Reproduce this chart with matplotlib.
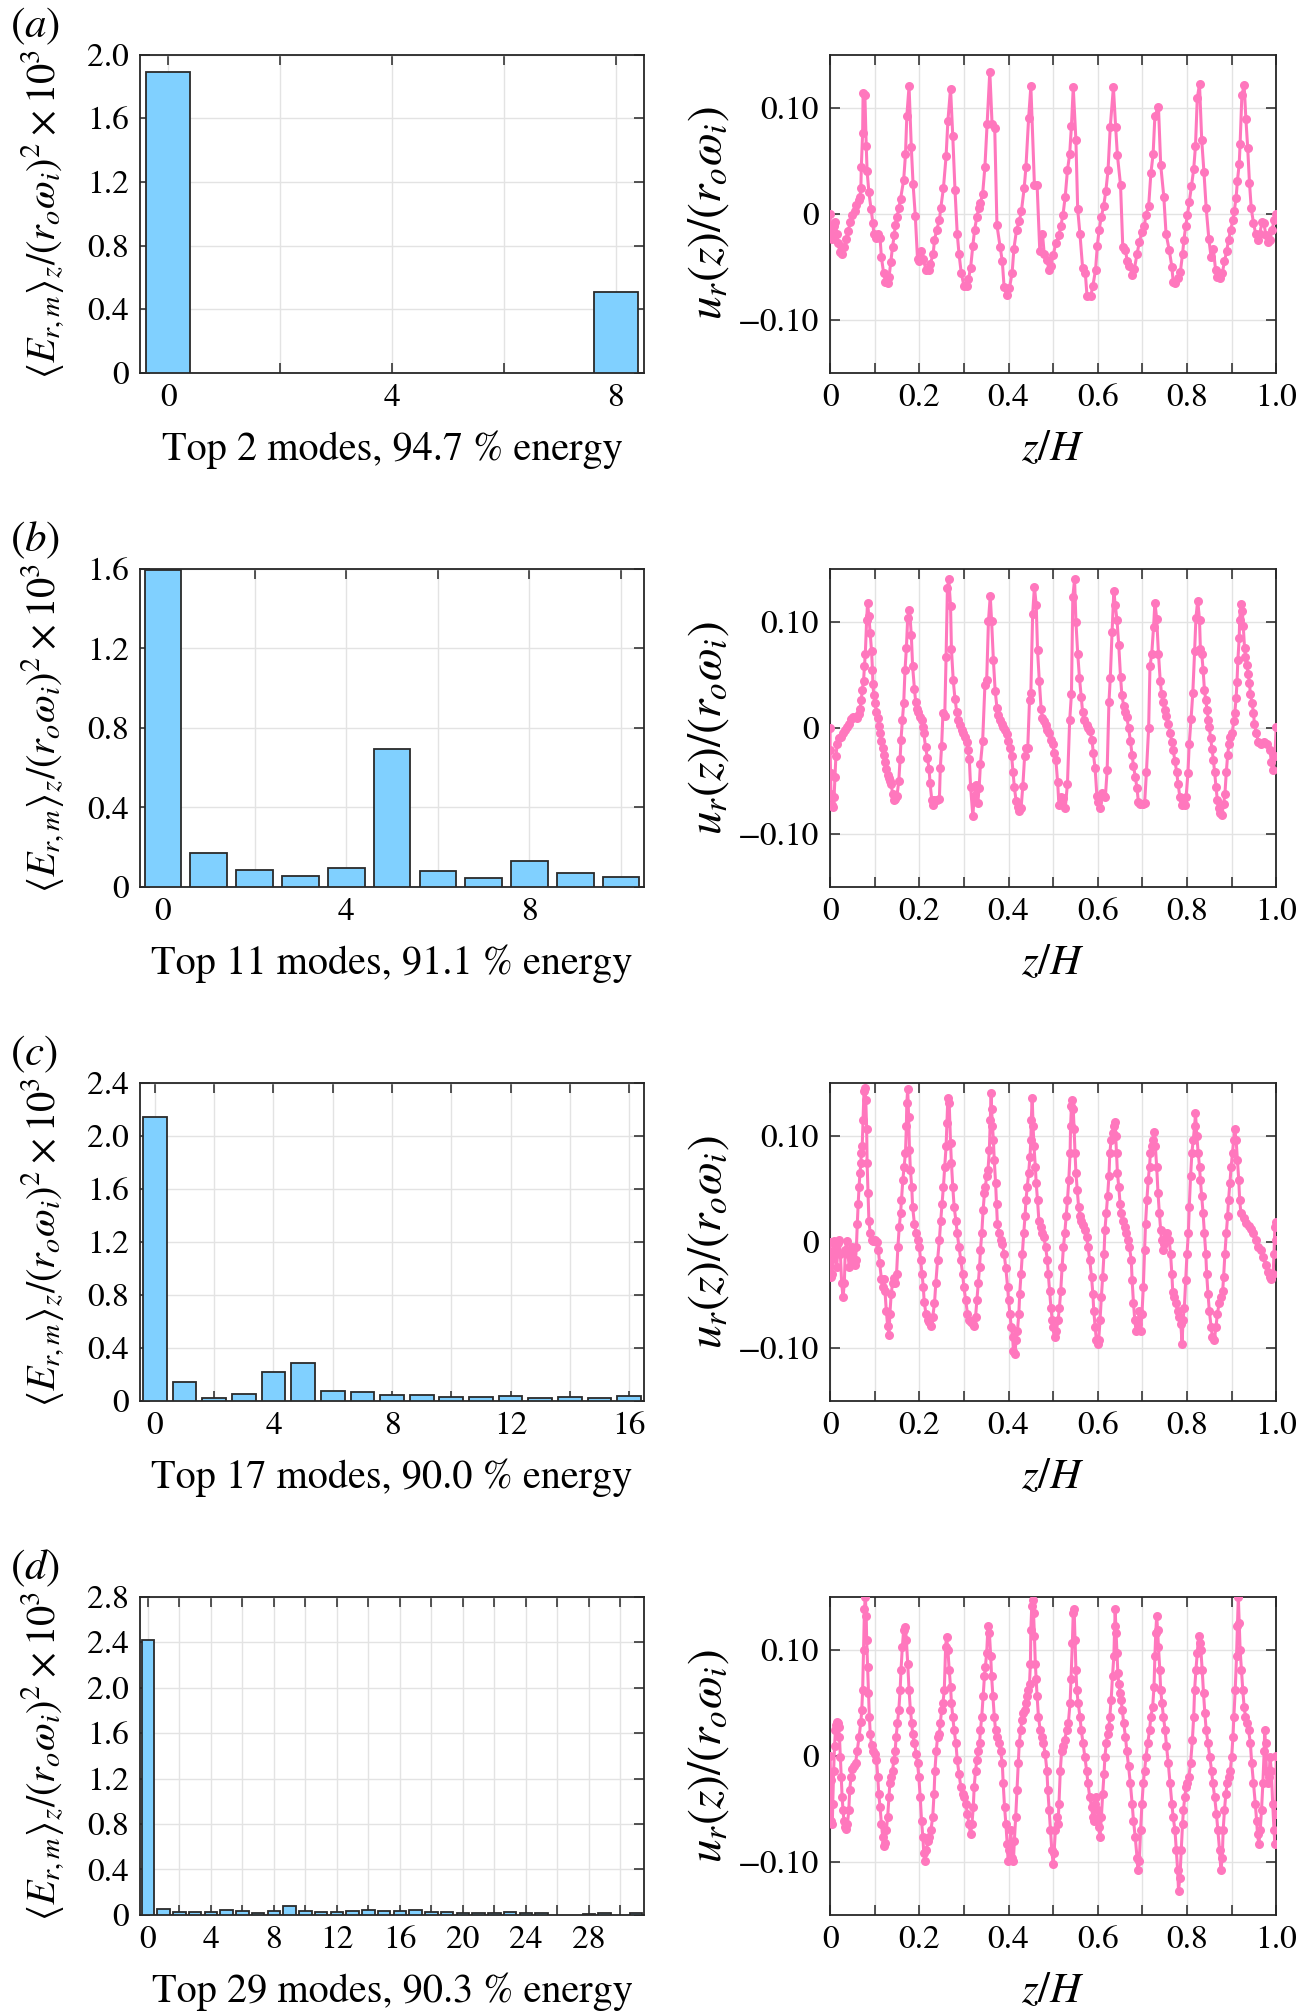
import numpy as np
import matplotlib
matplotlib.use("Agg")
import matplotlib.pyplot as plt

plt.rcParams['font.family'] = ['STIXGeneral', 'DejaVu Serif']
plt.rcParams['mathtext.fontset'] = 'stix'

# ---------------- data ----------------
# Left column: mode energies <E_{r,m}>_z/(r_o w_i)^2 x 10^3
modes_a = [0, 8]
energy_a = [1.893, 0.507]
modes_b = list(range(11))
energy_b = [1.593, 0.173, 0.087, 0.055, 0.096, 0.696, 0.081, 0.044, 0.129, 0.072, 0.049]
modes_c = list(range(17))
energy_c = [2.143, 0.146, 0.025, 0.055, 0.216, 0.289, 0.078, 0.068, 0.048, 0.045,
            0.028, 0.033, 0.040, 0.025, 0.030, 0.025, 0.035]
modes_d = list(range(26)) + [28, 29, 31]
energy_d = [2.42, 0.053, 0.029, 0.029, 0.026, 0.041, 0.035, 0.021, 0.038, 0.076,
            0.038, 0.026, 0.029, 0.032, 0.044, 0.038, 0.035, 0.044, 0.029, 0.023,
            0.015, 0.015, 0.015, 0.023, 0.018, 0.015, 0.012, 0.015, 0.015]

xlabels_left = ["Top 2 modes, 94.7 % energy", "Top 11 modes, 91.1 % energy",
                "Top 17 modes, 90.0 % energy", "Top 29 modes, 90.3 % energy"]
panel_tags = ["a", "b", "c", "d"]

# Right column: u_r(z)/(r_o w_i); pairs are (z/H x 1000, u x 1000)
profile_a = [(0,0),(1,-19),(4,-24),(8,-12),(11,-8),(15,-19),(18,-28),(22,-36),(27,-38),(32,-31),(36,-24),(41,-16),(45,-8),(50,-1),(55,3),(59,8),(64,13),(67,16),(69,24),(70,44),(73,76),(74,114),(78,112),(81,64),(83,40),(87,20),(92,4),(96,-9),(98,-19),(103,-23),(108,-19),(112,-23),(115,-41),(120,-56),(124,-64),(129,-65),(132,-60),(136,-46),(140,-31),(144,-20),(146,-11),(150,-3),(154,5),(158,14),(165,32),(169,56),(172,92),(177,120),(182,63),(186,28),(191,-2),(196,-43),(200,-45),(204,-35),(209,-43),(215,-53),(221,-53),(225,-47),(231,-38),(234,-25),(239,-15),(245,-6),(248,5),(254,24),(260,54),(264,87),(270,118),(275,73),(280,22),(285,-19),(289,-38),(294,-56),(300,-68),(306,-68),(310,-62),(315,-51),(320,-30),(324,-15),(329,-3),(333,5),(337,10),(342,19),(347,44),(352,85),(358,134),(363,85),(369,81),(374,-11),(381,-31),(386,-45),(390,-69),(396,-77),(402,-70),(408,-56),(412,-33),(418,-15),(424,-7),(429,3),(435,24),(439,44),(445,90),(450,120),(458,27),(464,27),(470,-35),(476,-19),(480,-38),(487,-44),(490,-53),(495,-49),(500,-39),(506,-28),(513,-20),(517,-12),(522,-1),(527,16),(532,41),(537,56),(541,83),(545,119),(551,69),(555,4),(560,-19),(566,-51),(572,-56),(576,-78),(584,-78),(589,-68),(595,-53),(599,-30),(603,-15),(608,-3),(613,7),(618,21),(623,41),(628,82),(635,119),(640,82),(644,55),(651,27),(656,-31),(662,-34),(666,-45),(671,-49),(677,-58),(682,-52),(688,-38),(693,-27),(699,-17),(704,-12),(708,-1),(714,7),(719,38),(724,56),(728,92),(736,101),(741,46),(748,16),(753,-19),(760,-34),(766,-50),(769,-64),(774,-65),(779,-61),(785,-55),(790,-38),(793,-25),(797,-12),(801,-1),(805,11),(810,26),(815,42),(819,64),(823,109),(828,122),(833,69),(838,39),(843,5),(849,-24),(854,-41),(859,-33),(864,-53),(867,-60),(873,-61),(879,-56),(884,-45),(889,-35),(893,-25),(898,-15),(903,-6),(906,3),(910,15),(913,31),(917,47),(919,66),(923,112),(928,121),(932,89),(936,62),(940,29),(944,5),(949,-9),(954,-19),(958,-25),(963,-19),(968,-8),(972,-9),(977,-20),(981,-27),(986,-25),(991,-15),(995,-6),(1000,0)]

profile_b = [(0,0),(0,-21),(1,-43),(2,-62),(4,-73),(6,-75),(9,-65),(11,-46),(13,-27),(16,-15),(19,-10),(24,-9),(29,-5),(33,-2),(38,1),(43,4),(47,8),(52,10),(57,10),(61,9),(64,13),(67,18),(70,26),(72,36),(75,44),(77,58),(79,70),(82,102),(84,118),(87,105),(90,89),(93,72),(95,55),(96,41),(98,31),(101,23),(104,15),(107,9),(109,2),(112,-5),(115,-12),(118,-19),(120,-26),(123,-32),(126,-39),(129,-44),(132,-47),(134,-50),(137,-53),(140,-62),(143,-68),(146,-67),(150,-64),(154,-50),(157,-29),(159,-11),(162,7),(165,23),(168,55),(171,75),(174,104),(178,111),(182,88),(185,58),(189,37),(192,24),(195,18),(198,15),(202,10),(205,7),(208,1),(210,-5),(214,-18),(218,-28),(222,-39),(224,-52),(228,-68),(231,-73),(234,-68),(239,-68),(245,-67),(247,-38),(250,-17),(253,14),(257,11),(260,67),(263,132),(266,140),(270,115),(272,74),(276,45),(280,27),(284,15),(287,7),(291,3),(295,-2),(298,-5),(302,-9),(306,-13),(309,-21),(312,-29),(315,-56),(320,-83),(323,-64),(327,-54),(331,-71),(334,-57),(337,-34),(342,-12),(347,40),(351,45),(355,101),(359,124),(362,101),(366,64),(370,35),(374,19),(377,12),(381,7),(385,4),(388,1),(392,-2),(396,-6),(399,-12),(403,-19),(407,-27),(410,-42),(413,-56),(417,-69),(421,-75),(424,-78),(428,-76),(432,-55),(436,-27),(439,-19),(443,-19),(447,26),(450,33),(454,107),(458,133),(462,116),(465,73),(469,44),(473,18),(476,9),(480,6),(484,3),(487,-2),(491,-5),(495,-11),(499,-15),(502,-24),(506,-30),(510,-51),(513,-73),(518,-65),(523,-66),(527,-76),(532,-53),(537,7),(541,32),(544,123),(548,140),(551,100),(555,70),(559,47),(563,29),(566,15),(570,7),(575,3),(578,0),(582,-3),(587,-11),(590,-24),(594,-38),(598,-64),(601,-70),(605,-76),(610,-61),(614,-64),(617,-65),(621,-40),(625,24),(628,47),(632,90),(636,129),(639,116),(643,102),(647,78),(651,48),(654,31),(658,21),(662,15),(665,10),(669,0),(673,-12),(677,-26),(680,-36),(684,-46),(688,-57),(691,-70),(695,-72),(701,-72),(705,-71),(709,-42),(714,0),(717,58),(721,70),(725,95),(728,118),(732,103),(736,70),(740,44),(743,32),(747,24),(751,17),(754,11),(758,4),(762,-5),(766,-13),(769,-21),(773,-31),(777,-42),(780,-53),(784,-65),(788,-73),(792,-68),(795,-73),(798,-65),(802,-43),(805,-15),(809,8),(813,33),(817,72),(820,104),(824,120),(828,102),(830,74),(833,70),(836,55),(839,36),(842,26),(845,17),(848,7),(850,1),(853,-10),(856,-20),(859,-30),(862,-42),(865,-56),(868,-68),(871,-76),(875,-80),(878,-82),(882,-72),(885,-62),(888,-42),(891,-26),(894,-15),(897,-9),(901,-5),(905,6),(907,14),(910,28),(912,43),(914,64),(917,85),(918,102),(921,117),(924,110),(926,96),(929,75),(931,67),(934,59),(937,51),(940,42),(942,32),(946,23),(949,14),(951,4),(955,-5),(960,-13),(966,-15),(973,-13),(980,-15),(986,-21),(989,-32),(993,-40),(997,-27),(1000,1)]

profile_c = [(0,0),(1,-17),(3,-33),(5,-30),(6,-11),(9,1),(12,-11),(15,-24),(18,-1),(20,2),(23,-11),(26,-39),(29,-52),(32,-39),(34,-8),(37,1),(40,-11),(43,-24),(46,-11),(49,-5),(52,-17),(55,-22),(57,-17),(59,-5),(61,17),(63,36),(65,52),(67,65),(69,74),(70,84),(72,90),(74,115),(76,142),(78,145),(80,134),(82,106),(83,74),(85,46),(87,20),(90,8),(93,2),(96,1),(101,2),(106,0),(108,-8),(111,-20),(115,-35),(118,-43),(120,-35),(123,-46),(126,-65),(129,-79),(132,-88),(134,-68),(137,-49),(140,-39),(143,-34),(146,-39),(149,-30),(152,-5),(155,14),(158,27),(160,39),(163,58),(166,71),(169,84),(171,109),(172,131),(174,144),(176,118),(178,87),(180,68),(183,52),(185,33),(189,17),(193,8),(196,2),(200,-5),(203,-17),(206,-30),(209,-43),(211,-57),(215,-68),(219,-74),(222,-76),(226,-79),(230,-71),(234,-58),(237,-39),(241,-17),(245,2),(248,20),(251,36),(254,52),(257,71),(260,90),(262,112),(264,136),(267,131),(270,93),(272,74),(275,52),(278,33),(282,20),(285,8),(289,-5),(293,-17),(297,-30),(300,-43),(304,-55),(308,-68),(311,-74),(316,-76),(320,-77),(323,-79),(326,-71),(329,-55),(332,-39),(335,-24),(337,-8),(340,8),(343,30),(346,46),(348,52),(351,62),(354,68),(357,87),(359,115),(361,140),(362,125),(364,109),(366,96),(368,77),(371,55),(373,36),(375,17),(379,8),(383,2),(386,-2),(390,-11),(394,-25),(398,-43),(400,-55),(403,-68),(406,-80),(409,-90),(411,-103),(414,-106),(417,-93),(420,-84),(423,-68),(425,-49),(428,-30),(431,-11),(434,8),(437,24),(439,39),(442,52),(445,65),(448,80),(450,96),(451,115),(453,136),(455,109),(457,90),(460,71),(462,55),(465,39),(468,20),(472,14),(475,8),(479,5),(483,-5),(487,-17),(489,-30),(492,-46),(495,-62),(498,-74),(500,-80),(503,-90),(507,-84),(511,-74),(514,-62),(517,-46),(520,-24),(523,-5),(526,8),(529,24),(532,39),(535,58),(538,84),(539,109),(541,128),(543,134),(545,125),(547,106),(549,84),(551,65),(554,49),(557,33),(560,24),(563,20),(567,16),(571,11),(575,5),(578,-5),(582,-17),(586,-33),(589,-49),(591,-65),(594,-80),(597,-93),(600,-96),(602,-93),(605,-74),(608,-52),(611,-33),(614,-11),(616,11),(619,27),(622,43),(625,62),(627,84),(630,96),(633,103),(636,109),(639,113),(640,100),(642,84),(644,65),(647,52),(650,36),(652,27),(656,20),(660,14),(664,8),(667,2),(671,-5),(675,-17),(677,-36),(680,-58),(683,-74),(686,-84),(690,-77),(693,-65),(696,-84),(699,-68),(702,-43),(705,-8),(707,17),(710,39),(713,58),(716,71),(718,84),(721,90),(724,96),(727,104),(729,90),(732,71),(735,46),(738,27),(741,11),(743,2),(746,-8),(749,-2),(753,5),(756,8),(760,2),(763,-11),(766,-30),(768,-47),(771,-52),(775,-58),(779,-65),(782,-71),(786,-77),(789,-96),(791,-74),(794,-62),(797,-36),(800,-11),(803,8),(805,33),(808,62),(811,84),(814,96),(817,109),(819,121),(822,100),(825,84),(828,71),(830,58),(833,43),(836,27),(839,8),(842,-11),(844,-30),(847,-49),(850,-65),(854,-80),(857,-90),(861,-93),(865,-80),(868,-68),(872,-58),(876,-52),(880,-46),(882,-33),(885,-11),(888,8),(891,24),(893,39),(896,55),(899,71),(902,84),(905,96),(907,106),(910,96),(913,77),(916,58),(918,39),(921,27),(927,22),(932,18),(938,15),(943,12),(949,8),(955,2),(960,-5),(966,-8),(971,-14),(977,-22),(981,-28),(985,-33),(989,-35),(993,-30),(995,-11),(997,14),(999,19),(1000,2)]

profile_d = [(0,0),(1,-23),(2,-45),(3,-61),(5,-64),(6,-45),(8,-14),(10,9),(12,24),(14,29),(16,32),(18,31),(19,27),(21,18),(23,-1),(25,-20),(27,-39),(29,-51),(31,-61),(33,-67),(36,-69),(39,-64),(42,-51),(44,-32),(47,-20),(50,-12),(54,-10),(57,-7),(61,5),(65,18),(69,32),(71,43),(73,62),(75,100),(77,138),(79,150),(81,132),(82,109),(84,84),(86,59),(88,37),(90,21),(93,10),(96,5),(100,2),(104,-4),(107,-20),(109,-36),(112,-48),(115,-64),(118,-77),(120,-85),(123,-82),(126,-70),(129,-58),(132,-39),(134,-26),(137,-20),(140,-14),(143,-4),(146,5),(148,18),(151,31),(154,43),(157,62),(159,81),(162,103),(165,119),(169,121),(171,109),(174,87),(177,62),(180,43),(183,31),(185,21),(189,12),(193,2),(196,-7),(199,-20),(202,-39),(205,-61),(208,-77),(210,-92),(213,-99),(216,-89),(219,-80),(222,-77),(226,-70),(230,-58),(233,-36),(235,-14),(238,5),(241,18),(245,21),(247,31),(250,43),(253,50),(256,62),(259,103),(261,112),(264,100),(267,81),(270,65),(272,50),(275,37),(278,24),(282,12),(285,-4),(289,-17),(293,-29),(297,-36),(300,-39),(304,-45),(308,-55),(311,-64),(315,-74),(318,-64),(321,-48),(323,-29),(326,-14),(329,-4),(332,5),(335,12),(337,24),(340,37),(343,56),(346,75),(348,84),(351,97),(354,122),(357,116),(360,94),(362,75),(365,56),(368,37),(371,24),(374,18),(378,12),(382,5),(386,-7),(388,-26),(391,-48),(394,-64),(397,-83),(399,-99),(402,-89),(405,-70),(408,-96),(411,-99),(413,-80),(416,-58),(419,-32),(422,-7),(424,12),(427,24),(430,34),(433,40),(436,43),(438,50),(441,56),(444,62),(447,68),(449,87),(450,119),(452,141),(454,147),(456,135),(458,113),(460,87),(462,72),(464,56),(467,37),(471,24),(475,18),(478,12),(482,2),(486,-14),(488,-32),(491,-51),(494,-70),(497,-89),(500,-102),(502,-92),(505,-70),(508,-58),(511,-64),(513,-45),(516,-14),(519,5),(523,9),(526,15),(530,24),(534,31),(538,50),(540,72),(543,106),(545,135),(547,138),(549,109),(551,81),(553,62),(556,50),(560,37),(563,24),(567,12),(571,-1),(575,-14),(578,-26),(582,-39),(586,-48),(589,-58),(591,-61),(594,-45),(597,-39),(600,-51),(602,-67),(605,-77),(608,-58),(611,-36),(614,-17),(616,-1),(619,12),(622,21),(625,27),(627,37),(630,53),(633,75),(636,94),(638,122),(639,138),(641,116),(643,97),(645,78),(647,68),(650,59),(652,53),(655,43),(658,31),(662,18),(665,5),(669,-10),(673,-26),(677,-45),(680,-61),(684,-77),(688,-96),(690,-108),(693,-99),(696,-70),(699,-45),(702,-26),(705,-14),(708,-1),(712,12),(716,24),(719,37),(723,46),(726,65),(728,94),(730,116),(732,132),(734,119),(736,103),(739,81),(741,62),(744,50),(747,37),(751,24),(754,9),(758,-7),(762,-26),(766,-45),(769,-58),(773,-70),(776,-89),(779,-108),(781,-127),(784,-115),(787,-89),(790,-64),(792,-51),(795,-39),(798,-29),(801,-26),(804,-20),(808,-7),(812,15),(815,37),(817,62),(820,81),(823,97),(826,113),(829,106),(831,100),(834,81),(837,59),(840,40),(843,24),(847,12),(851,-1),(855,-14),(858,-26),(862,-39),(866,-55),(869,-70),(873,-89),(876,-108),(879,-96),(881,-70),(884,-51),(887,-36),(890,-26),(893,-20),(897,-14),(900,-1),(903,18),(905,37),(908,62),(911,94),(913,122),(915,150),(917,125),(919,100),(922,81),(925,62),(928,46),(931,37),(934,31),(938,24),(942,12),(945,-7),(949,-26),(953,-45),(956,-61),(958,-74),(961,-83),(964,-70),(967,-51),(970,-26),(973,5),(974,24),(976,12),(978,-14),(981,-26),(984,-20),(986,-1),(989,-14),(992,-45),(995,-70),(997,-83),(999,-55),(1000,0)]

# ---------------- styling ----------------
bar_color = '#80d0ff'
bar_edge = '#2a2a2a'
line_color = '#ff77bd'
spine_color = '#262626'
grid_color = '#e3e3e3'
FS_TICK = 24
FS_XLAB = 29
FS_YLAB_L = 29
FS_YLAB_R = 34
FS_ZH = 31
FS_TAG = 31

fig = plt.figure(figsize=(12.97, 20.14), dpi=100)

row_bottoms = [0.8149, 0.5596, 0.3044, 0.0492]
row_h = 0.158
left_x, left_w = 0.108, 0.3885
right_x, right_w = 0.6400, 0.3440

bars = [(modes_a, energy_a), (modes_b, energy_b), (modes_c, energy_c), (modes_d, energy_d)]
ylims_left = [2.0, 1.6, 2.4, 2.8]
xmax_left = [8, 10, 16, 31]
label_step = 4
profiles = [profile_a, profile_b, profile_c, profile_d]


def style_axes(ax):
    for s in ax.spines.values():
        s.set_color(spine_color)
        s.set_linewidth(1.3)
    ax.tick_params(direction='in', top=True, right=True, length=7, width=1.1,
                   colors=spine_color, labelsize=FS_TICK, pad=8)
    for lab in ax.get_xticklabels() + ax.get_yticklabels():
        lab.set_color('black')
    ax.grid(True, color=grid_color, linewidth=1.0)
    ax.set_axisbelow(True)


for i in range(4):
    b = row_bottoms[i]
    # ---- left: bar chart
    axl = fig.add_axes([left_x, b, left_w, row_h])
    m, e = bars[i]
    axl.bar(m, e, width=0.8, color=bar_color, edgecolor=bar_edge, linewidth=1.3, zorder=3)
    axl.set_xlim(-0.5, xmax_left[i] + 0.5)
    axl.set_ylim(0, ylims_left[i])
    xt = np.arange(0, xmax_left[i] + 1, 2)
    axl.set_xticks(xt)
    axl.set_xticklabels([str(v) if v % label_step == 0 else '' for v in xt])
    yt = np.arange(0, ylims_left[i] + 1e-9, 0.4)
    axl.set_yticks(yt)
    axl.set_yticklabels(['0' if abs(v) < 1e-9 else f'{v:.1f}' for v in yt])
    style_axes(axl)
    axl.set_ylabel(r'$\langle E_{r,m}\rangle_z/(r_o\omega_i)^2\times10^3$', fontsize=FS_YLAB_L)
    axl.yaxis.set_label_coords(-0.146, 0.5)
    axl.set_xlabel(xlabels_left[i], fontsize=FS_XLAB)
    axl.xaxis.set_label_coords(0.5, -0.18)
    fig.text(0.008, b + row_h + 0.004, '(' + '$' + panel_tags[i] + '$' + ')',
             fontsize=FS_TAG, ha='left', va='bottom')

    # ---- right: profile
    axr = fig.add_axes([right_x, b, right_w, row_h])
    pr = np.array(profiles[i], dtype=float) / 1000.0
    axr.plot(pr[:, 0], pr[:, 1], '-o', color=line_color, linewidth=2.2,
             markersize=6.5, markeredgewidth=0, zorder=3, clip_on=True)
    axr.set_xlim(0, 1)
    axr.set_ylim(-0.15, 0.15)
    xt = np.round(np.arange(0, 1.0001, 0.1), 1)
    axr.set_xticks(xt)
    axr.set_xticklabels(['0' if v == 0 else (f'{v:.1f}' if round(v * 10) % 2 == 0 else '') for v in xt])
    axr.set_yticks([-0.10, 0, 0.10])
    axr.set_yticklabels(['\u22120.10', '0', '0.10'])
    style_axes(axr)
    axr.set_ylabel(r'$u_r(z)/(r_o\omega_i)$', fontsize=FS_YLAB_R)
    axr.yaxis.set_label_coords(-0.222, 0.5)
    axr.set_xlabel(r'$z/H$', fontsize=FS_ZH)
    axr.xaxis.set_label_coords(0.5, -0.182)

fig.savefig('out.png', dpi=100)
